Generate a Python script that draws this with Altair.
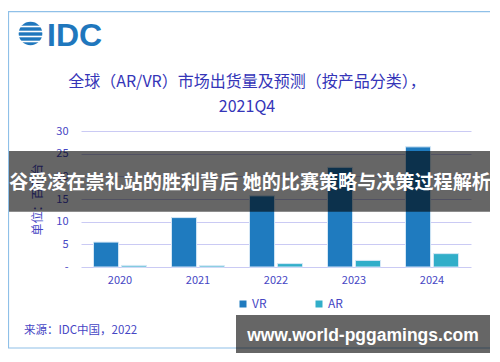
import altair as alt
import pandas as pd

years = ["2020", "2021", "2022", "2023", "2024"]
vr = [5.5, 10.9, 15.7, 22.0, 26.5]
ar = [0.35, 0.3, 0.75, 1.45, 2.95]
series = ["VR", "AR"]
colors = ["#1f7bbf", "#31aec9"]

title1 = "全球（AR/VR）市场出货量及预测（按产品分类），"
title2 = "2021Q4"
y_title = "单位：百万台"
source = "来源：IDC中国，2022"
banner_text = "谷爱凌在崇礼站的胜利背后 她的比赛策略与决策过程解析"
watermark = "www.world-pggamings.com"

rows = []
for i, y in enumerate(years):
    rows.append({"year": y, "series": "VR", "value": vr[i]})
    rows.append({"year": y, "series": "AR", "value": ar[i]})
df = pd.DataFrame(rows)

FONT = "Noto Sans CJK SC"
TXT = "#4646c4"
one = pd.DataFrame({"a": [0]})

bars = alt.Chart(df).mark_bar(stroke="#d6e8f6", strokeWidth=1).encode(
    x=alt.X("year:N", sort=years,
            scale=alt.Scale(paddingInner=0.32, paddingOuter=0.16),
            axis=alt.Axis(title=None, labelAngle=0, labelColor=TXT, labelFontSize=11,
                          labelFont=FONT, ticks=False, domain=False, labelPadding=7)),
    xOffset=alt.XOffset("series:N", sort=series, scale=alt.Scale(paddingInner=0.1)),
    y=alt.Y("value:Q", scale=alt.Scale(domain=[0, 30], nice=False),
            axis=alt.Axis(values=[0, 5, 10, 15, 20, 25, 30], title=y_title,
                          titleColor=TXT, titleFont=FONT, titleFontSize=12,
                          titleFontWeight="normal", titlePadding=11,
                          labelColor=TXT, labelFontSize=11, labelFont=FONT,
                          labelExpr="datum.value == 0 ? '-' : datum.label",
                          ticks=False, domain=False, labelPadding=13,
                          gridColor="#cacaf4", gridWidth=1)),
    color=alt.Color("series:N", sort=series,
                    scale=alt.Scale(domain=series, range=colors),
                    legend=alt.Legend(title=None, orient="none", direction="horizontal",
                                      legendX=156, legendY=167, symbolType="square",
                                      symbolSize=49, symbolStrokeWidth=0,
                                      labelColor=TXT, labelFont=FONT, labelFontSize=12,
                                      labelOffset=3, columnPadding=46)),
)

# outer frame
frame = alt.Chart(one).mark_rect(fill=None, stroke="#8fc0e8", strokeWidth=1.2).encode(
    x=alt.value(-72.5), x2=alt.value(412.3), y=alt.value(-119.3), y2=alt.value(217))

# IDC logo
logo_circle = alt.Chart(one).mark_point(shape="circle", filled=True, color="#1f77bd",
                                        size=560, opacity=1).encode(
    x=alt.value(-50.5), y=alt.value(-97.5))
stripe_rows = pd.DataFrame({"yy": [-104.5, -99.5, -94.5, -89.5]})
logo_stripes = alt.Chart(stripe_rows).mark_rule(color="white", strokeWidth=1.6).encode(
    x=alt.value(-66), x2=alt.value(-35), y=alt.Y("yy:Q", scale=None))
logo_text = alt.Chart(one).mark_text(text="IDC", font="Liberation Sans", fontSize=32,
                                     fontWeight="bold", color="#1f77bd", align="left",
                                     baseline="alphabetic").encode(
    x=alt.value(-34), y=alt.value(-85.5))

t1 = alt.Chart(one).mark_text(text=title1, font=FONT, fontSize=16, color="#3535b8",
                              align="center", baseline="middle").encode(
    x=alt.value(166), y=alt.value(-49.5))
t2 = alt.Chart(one).mark_text(text=title2, font=FONT, fontSize=16, color="#3535b8",
                              align="center", baseline="middle").encode(
    x=alt.value(166), y=alt.value(-24.5))

src = alt.Chart(one).mark_text(text=source, font=FONT, fontSize=11.5, color=TXT,
                               align="left", baseline="middle").encode(
    x=alt.value(-57), y=alt.value(199.5))

b1 = alt.Chart(one).mark_rect(color="black", opacity=0.6).encode(
    x=alt.value(-72), x2=alt.value(410), y=alt.value(20), y2=alt.value(80.7))
b1t = alt.Chart(one).mark_text(text=banner_text, font=FONT, fontSize=19.1, fontWeight="bold",
                               color="white", align="center", baseline="middle").encode(
    x=alt.value(169), y=alt.value(51.5))

b2 = alt.Chart(one).mark_rect(color="black", opacity=0.6).encode(
    x=alt.value(155), x2=alt.value(410), y=alt.value(184), y2=alt.value(222))
b2t = alt.Chart(one).mark_text(text=watermark, font="Liberation Sans", fontSize=17.5,
                               fontWeight="bold", color="white", align="center",
                               baseline="middle").encode(
    x=alt.value(282), y=alt.value(204.5))

chart = alt.layer(frame, bars, logo_circle, logo_stripes, logo_text, t1, t2, src,
                  b1, b1t, b2, b2t).properties(
    width=390, height=136,
    padding={"left": 73, "top": 123, "right": 19, "bottom": 86},
    autosize=alt.AutoSizeParams(type="none"),
    background="white",
).configure_view(stroke=None)

chart.save("out.html", embed_options={"renderer": "svg", "actions": False})
